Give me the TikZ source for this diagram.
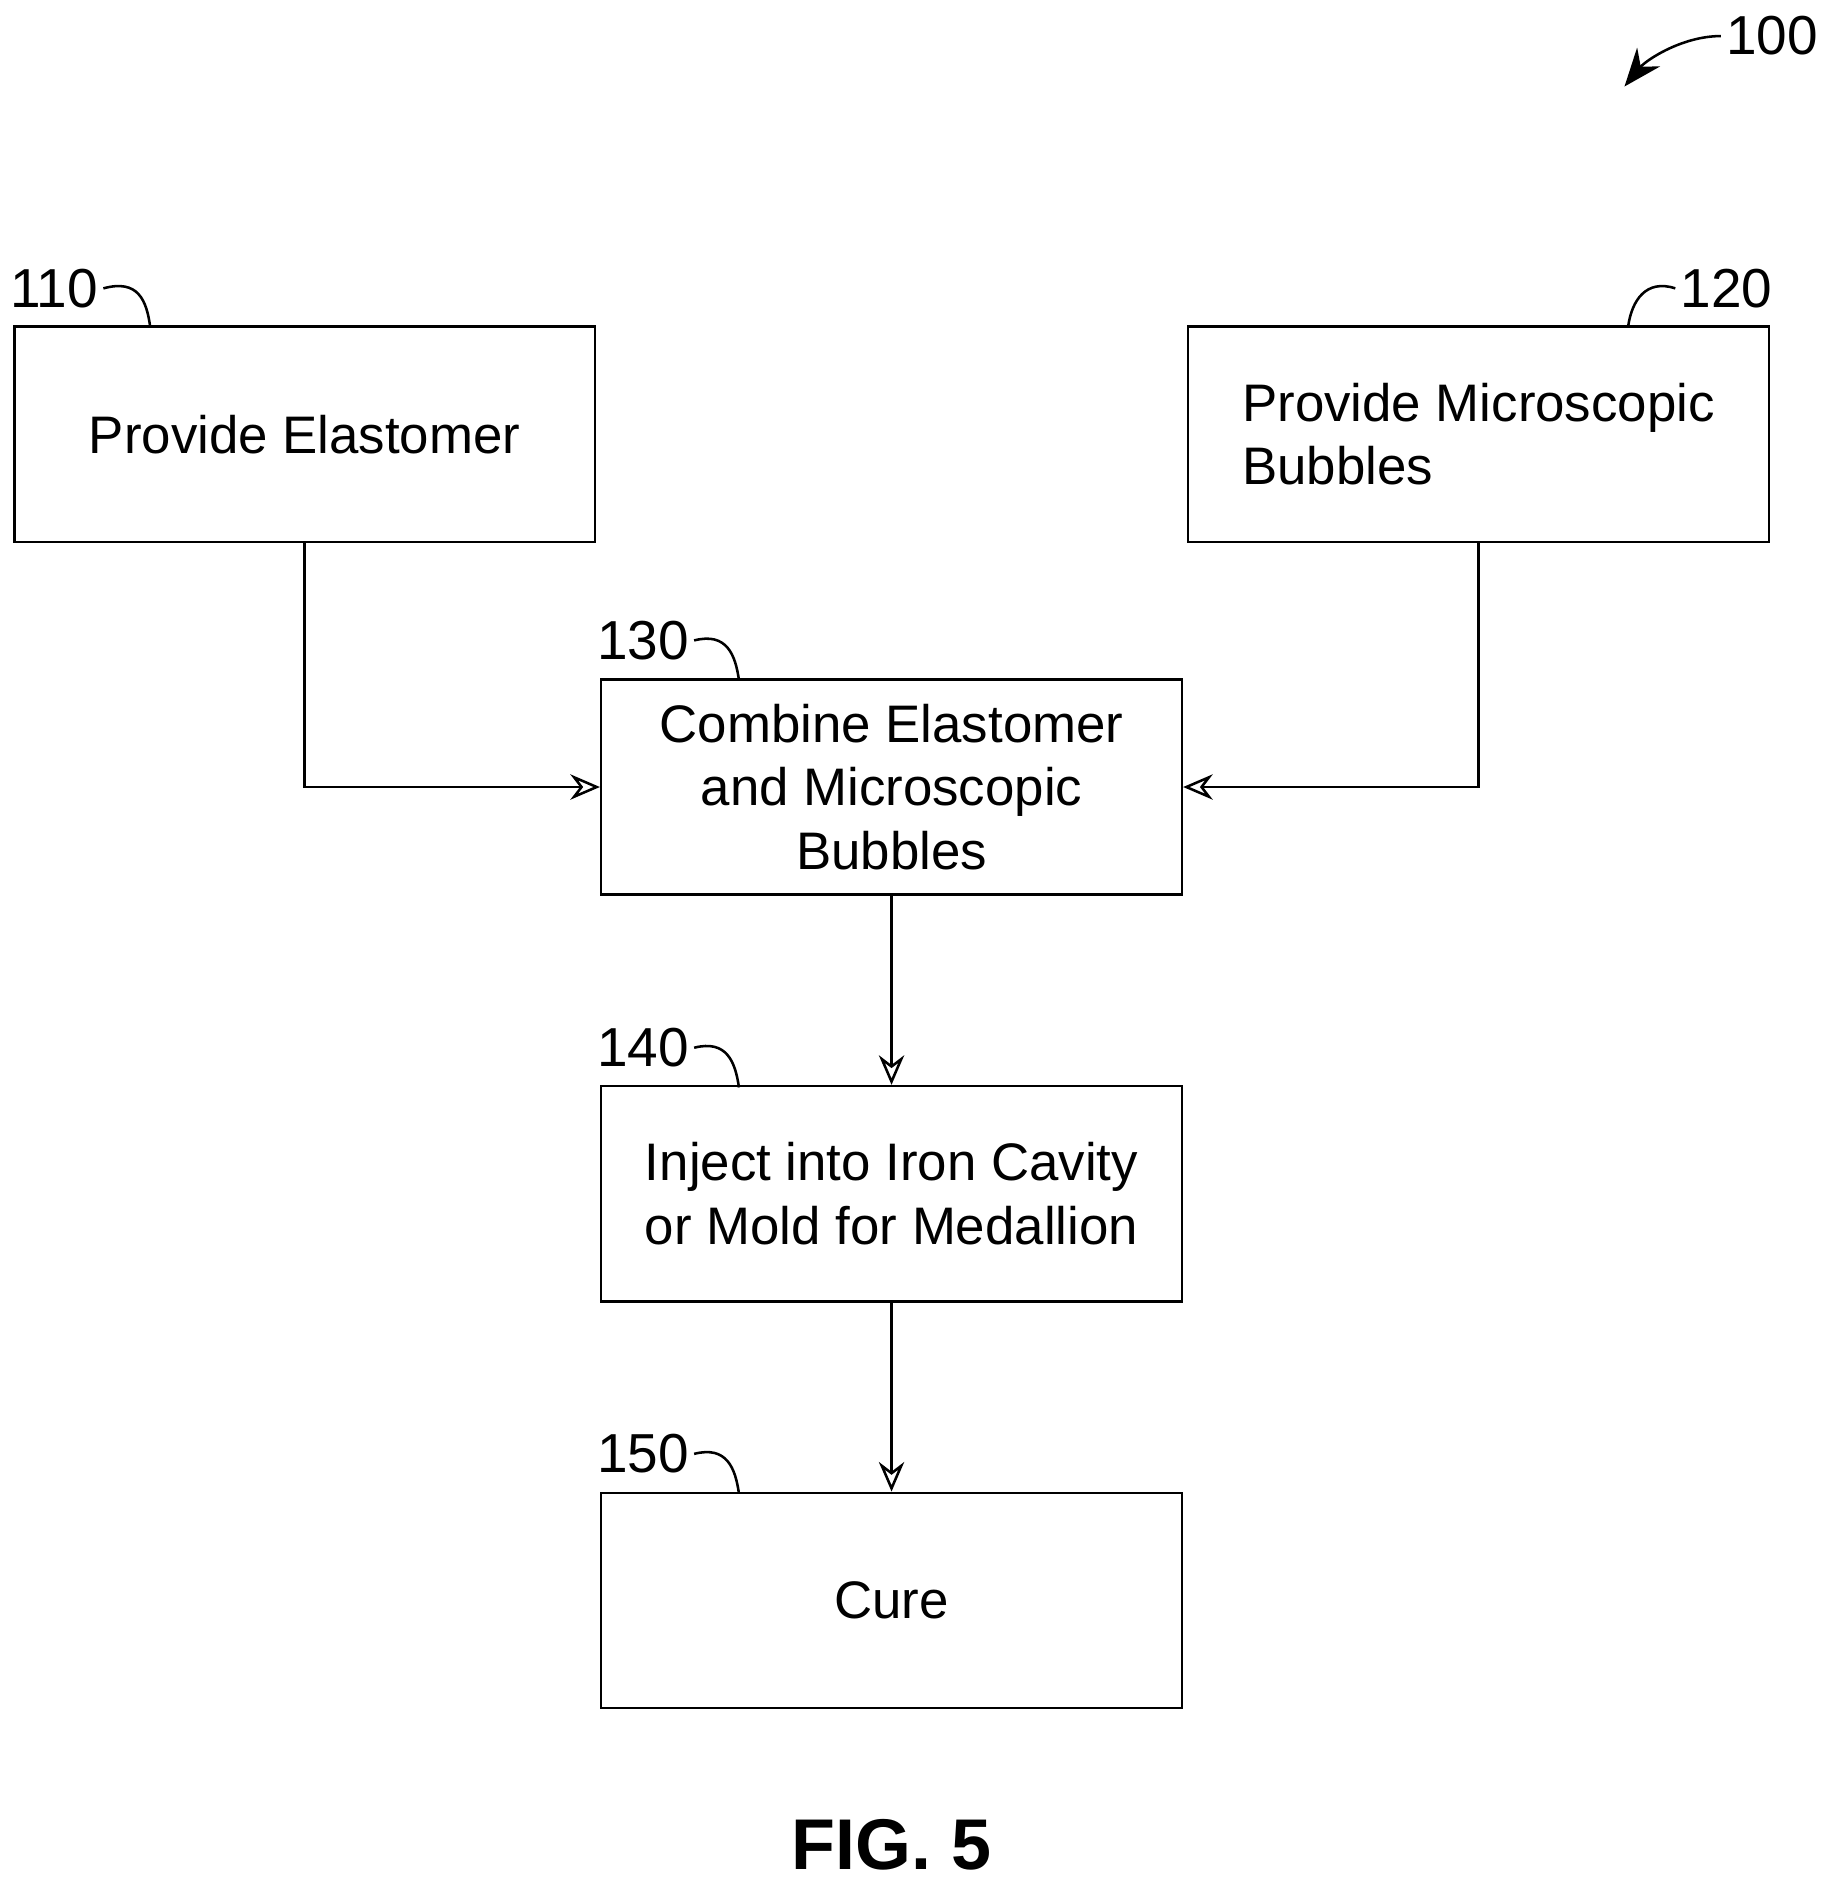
\documentclass[tikz,border=0pt]{standalone}
\usepackage{fontspec}
\setmainfont{Liberation Sans}
\usetikzlibrary{arrows.meta}

\begin{document}
\tikzset{
  stage/.style={draw, rectangle, minimum width=4.83cm, minimum height=1.79cm, align=center,
    font=\fontsize{12.5}{15}\selectfont, inner sep=2pt},
  ref/.style={font=\fontsize{13}{15}\selectfont, inner sep=1pt},
  flow/.style={-{Stealth[open,length=7pt,width=6pt]}}
}
\begin{tikzpicture}[x=0.01cm,y=-0.01cm, line width=0.6pt]
\useasboundingbox (0,0) rectangle (1516,1563);

\node[stage] (elast) at (253.5,361.5) {Provide Elastomer};
\node[stage, align=left] (bubbl) at (1230.5,361.5) {Provide Microscopic\\Bubbles};
\node[stage] (combi) at (742,655) {Combine Elastomer\\and Microscopic\\Bubbles};
\node[stage] (inject) at (742,993.5) {Inject into Iron Cavity\\or Mold for Medallion};
\node[stage] (cure) at (742,1332) {Cure};

% reference numerals
\node[ref] (r110) at (45,240) {110};
\node[ref] (r120) at (1437,240) {120};
\node[ref] (r130) at (535,533) {130};
\node[ref] (r140) at (535,872) {140};
\node[ref] (r150) at (535,1210) {150};
\node[ref] (r100) at (1475,30) {100};
\node[font=\bfseries\fontsize{17}{20}\selectfont] (fig) at (742,1535) {FIG. 5};

\draw (r110.east) .. controls (115,232) and (122,250) .. (125,272);
\draw (r120.west) .. controls (1370,232) and (1358,250) .. (1355,272);
\draw (r130.east) .. controls (605,526) and (612,545) .. (615,566);
\draw (r140.east) .. controls (605,865) and (612,884) .. (615,905);
\draw (r150.east) .. controls (605,1203) and (612,1222) .. (615,1243);
\draw[-{Stealth[length=9pt,width=7pt]}] (r100.west) .. controls (1400,30) and (1370,50) .. (1352,72);

% connectors
\draw[flow] (elast.south) |- (combi.west);
\draw[flow] (bubbl.south) |- (combi.east);
\draw[flow] (combi) -- (inject);
\draw[flow] (inject) -- (cure);
\end{tikzpicture}
\end{document}
